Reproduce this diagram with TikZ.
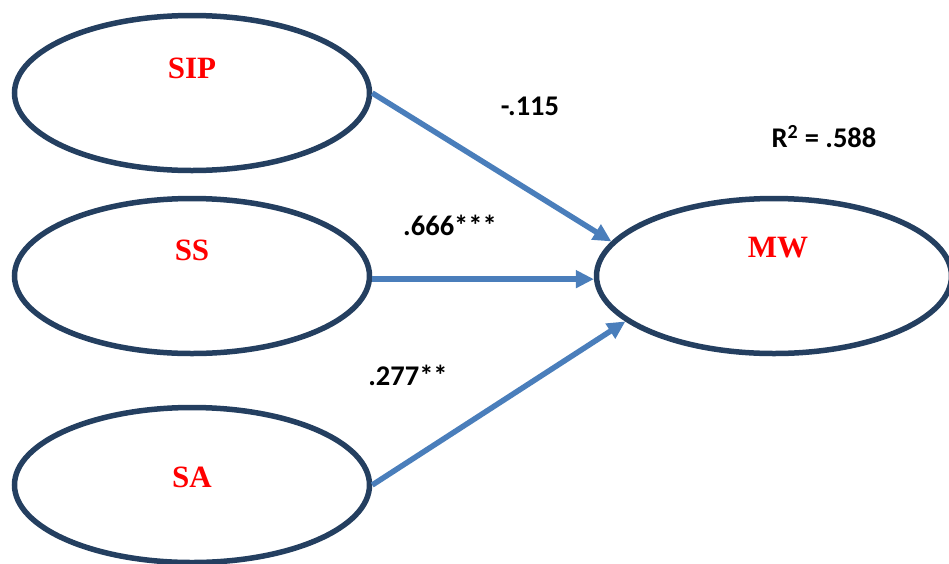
\documentclass[tikz,border=0pt]{standalone}
\usepackage{fontspec}
\setmainfont{Liberation Serif}
\newfontfamily\coeffont{Carlito}
\usetikzlibrary{shapes.geometric,arrows.meta}
\definecolor{ringnavy}{RGB}{36,63,96}
\definecolor{pathblue}{RGB}{74,126,187}
\tikzset{
  latent/.style={ellipse,draw=ringnavy,line width=5.5pt,minimum width=355pt,minimum height=155pt,inner sep=0pt},
  lvname/.style={text=red,font=\fontsize{31}{31}\selectfont\bfseries,inner sep=0pt},
  coef/.style={font=\coeffont\fontsize{28.5}{28.5}\selectfont\bfseries,inner sep=0pt},
  pathline/.style={draw=pathblue,line width=5.5pt,-{Triangle[length=18pt,width=17pt]}}
}
\begin{document}
\begin{tikzpicture}[x=1pt,y=-1pt]
  \useasboundingbox (0,0) rectangle (949,563);
  \clip (0,0) rectangle (949,563);
  % latent variables
  \node[latent] (sip) at (192,93) {};
  \node[latent] (ss)  at (192,276) {};
  \node[latent] (sa)  at (192,485) {};
  \node[latent] (mw)  at (774,276) {};
  \node[lvname] (sipname) at (192,68)  {SIP};
  \node[lvname] (ssname)  at (192,250) {SS};
  \node[lvname] (saname)  at (192,477) {SA};
  \node[lvname] (mwname)  at (778,248) {MW};
  % structural paths
  \draw[pathline] (sip.east) -- (mw.168);
  \draw[pathline] (ss.-1.6) -- (mw.181.4);
  \draw[pathline] (sa.east) -- (mw.197);
  % path coefficients
  \node[coef] (c1) at (530,106) {-.115};
  \node[coef] (c2) at (450,225) {.666***};
  \node[coef] (c3) at (408,375) {.277**};
  \node[coef] (r2) at (824,137) {R\textsuperscript{2} = .588};
\end{tikzpicture}
\end{document}
